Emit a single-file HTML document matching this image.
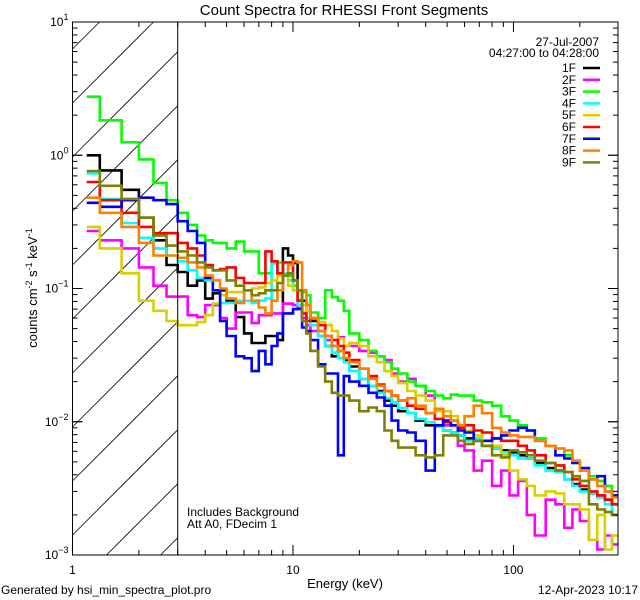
<!DOCTYPE html>
<html><head><meta charset="utf-8"><style>
html,body{margin:0;padding:0;background:#fff;width:640px;height:600px;overflow:hidden}
svg{display:block;font-family:"Liberation Sans",sans-serif}
</style></head><body>
<svg id="chart" width="640" height="600" xmlns="http://www.w3.org/2000/svg">
<rect width="640" height="600" fill="#fff"/>
<text x="344" y="15" font-size="15" text-anchor="middle">Count Spectra for RHESSI Front Segments</text>
<g id="hatch"></g>
<g id="series"></g>
<g id="axes"></g>
<g font-size="12" text-anchor="end">
<text x="599" y="46">27-Jul-2007</text>
<text x="599" y="57">04:27:00 to 04:28:00</text>
</g>
<g id="legend-entries"></g>
<text x="187" y="516" font-size="12">Includes Background</text>
<text x="187" y="528" font-size="12">Att A0, FDecim 1</text>
<text x="345" y="588" font-size="13" text-anchor="middle">Energy (keV)</text>
<text transform="translate(37,288) rotate(-90)" font-size="13" text-anchor="middle">counts cm<tspan dy="-5" font-size="9">-2</tspan><tspan dy="5"> s</tspan><tspan dy="-5" font-size="9">-1</tspan><tspan dy="5"> keV</tspan><tspan dy="-5" font-size="9">-1</tspan></text>
<text x="1" y="594" font-size="12">Generated by hsi_min_spectra_plot.pro</text>
<text x="638" y="594" font-size="12" text-anchor="end">12-Apr-2023 10:17</text>
</svg>
<script>
const edges=[1.16,1.33,1.67,2,2.33,2.67,3,3.33,3.67,4,4.33,4.67,5,5.5,6,6.5,7,7.5,8,8.5,9,9.5,10,10.5,11,11.5,12,13,14,15,16,17,18,20,22,24,26,28,30,33,36,40,44,48,52,56,60,66,72,80,88,96,105,115,125,140,155,170,185,200,220,240,260,280,300];
const seriesNames=["1F","2F","3F","4F","5F","6F","7F","8F","9F"];
const seriesColors=["#000000","#ff00ff","#00ff00","#00ffff","#d8d000","#ff0000","#0000ff","#ff8000","#808000"];
const s1F=[1.0,.77,.55,.34,.23,.15,.133,.105,.115,.084,.092,.097,.081,.061,.046,.039,.039,.044,.044,.041,.20,.177,.155,.097,.081,.068,.057,.048,.037,.031,.034,.029,.026,.021,.0186,.017,.0144,.0132,.012,.0116,.0102,.0094,.0094,.0086,.0083,.0079,.0075,.0072,.0066,.0063,.0061,.0059,.0056,.0053,.0049,.0045,.0043,.0037,.0034,.0031,.0029,.0028,.0026,.0024];
const s2F=[.27,.23,.20,.144,.105,.087,.087,.063,.061,.075,.075,.06,.05,.066,.066,.055,.063,.063,.065,.065,.077,.077,.075,.071,.06,.053,.048,.044,.041,.037,.043,.037,.037,.034,.033,.031,.029,.023,.020,.021,.0186,.0157,.012,.0094,.0102,.0066,.0061,.0043,.0051,.0033,.0043,.0028,.0036,.0020,.0014,.0026,.0024,.0016,.0022,.0018,.0013,.0011,.0014,.0012];
const s3F=[2.75,1.83,1.25,.93,.62,.46,.37,.30,.25,.23,.22,.22,.20,.225,.19,.19,.13,.13,.157,.157,.125,.125,.105,.097,.094,.089,.066,.06,.097,.086,.081,.068,.046,.041,.034,.031,.028,.025,.023,.020,.0186,.017,.0157,.015,.016,.0157,.0157,.0144,.014,.0132,.011,.0102,.0094,.0086,.0075,.0066,.0063,.0056,.0049,.0043,.0039,.0036,.0033,.0028];
const s4F=[.73,.47,.31,.24,.20,.177,.16,.137,.12,.115,.097,.078,.078,.081,.081,.078,.081,.084,.154,.13,.13,.115,.097,.075,.066,.06,.053,.044,.037,.033,.03,.028,.024,.021,.0186,.0165,.015,.014,.0127,.0116,.0105,.0099,.0092,.0086,.0083,.0079,.0072,.0075,.0066,.0063,.0059,.0056,.0053,.0053,.0047,.0043,.0042,.0037,.0033,.003,.0029,.0027,.0024,.002];
const s5F=[.29,.20,.13,.081,.068,.057,.053,.053,.056,.063,.077,.089,.094,.094,.097,.1,.102,.11,.115,.125,.125,.105,.097,.081,.075,.068,.06,.056,.053,.048,.042,.037,.039,.037,.031,.028,.024,.022,.0195,.017,.0157,.0144,.012,.012,.011,.0094,.0086,.0079,.0072,.0066,.0056,.0043,.0037,.0033,.0028,.003,.0029,.0024,.0024,.0022,.0013,.002,.0011,.0014];
const s6F=[.63,.46,.37,.29,.26,.26,.22,.20,.177,.15,.137,.14,.144,.12,.11,.11,.11,.19,.16,.13,.157,.157,.115,.081,.065,.057,.06,.053,.044,.041,.037,.033,.029,.025,.022,.019,.017,.0157,.0144,.0132,.0125,.0116,.0105,.0099,.0094,.009,.0094,.0086,.0083,.0075,.0072,.0072,.0066,.0061,.0056,.0049,.0047,.0042,.0037,.0033,.003,.0028,.0026,.0024];
const s7F=[.44,.41,.46,.48,.46,.43,.32,.27,.22,.12,.097,.057,.044,.031,.03,.024,.034,.027,.037,.046,.065,.065,.07,.07,.051,.048,.041,.027,.023,.023,.0056,.022,.02,.0186,.0165,.0152,.0132,.0102,.0086,.0083,.0072,.0043,.0094,.0102,.0094,.0086,.0083,.0072,.0072,.0075,.0079,.0086,.009,.0086,.0072,.0066,.0056,.0053,.0049,.0045,.0037,.0039,.003,.0028];
const s8F=[.48,.37,.29,.22,.177,.177,.17,.157,.144,.125,.115,.1,.084,.078,.097,.081,.072,.065,.081,.097,.125,.15,.16,.157,.097,.075,.06,.048,.044,.037,.034,.03,.028,.025,.021,.0186,.017,.0157,.0144,.015,.0132,.0116,.0125,.011,.0102,.0094,.011,.0132,.0116,.009,.0083,.0079,.0077,.0077,.0072,.0066,.0063,.0061,.0051,.0043,.0037,.0033,.003,.0027];
const s9F=[.76,.59,.47,.34,.25,.21,.19,.177,.157,.144,.137,.137,.115,.105,.097,.089,.092,.097,.097,.11,.125,.13,.115,.097,.057,.046,.034,.026,.020,.0165,.0157,.0157,.0144,.012,.0128,.012,.0086,.0072,.0064,.0064,.0056,.0054,.0056,.0079,.0079,.0072,.0068,.0072,.0066,.0056,.0054,.0061,.0059,.0056,.0051,.0049,.0043,.0042,.0039,.0036,.0024,.0022,.0021,.002];
const seriesData=[s1F,s2F,s3F,s4F,s5F,s6F,s7F,s8F,s9F];
const xTicksMajor=[1,10,100];
const xTickLabels=["1","10","100"];
const yTicksMajor=[-3,-2,-1,0,1];

const NS="http://www.w3.org/2000/svg";
const L=72.5,R=618,T=22,B=555;
const xMin=1,xMax=298,yMinExp=-3,yMaxExp=1;
function xs(e){return L+(Math.log10(e)-Math.log10(xMin))/(Math.log10(xMax)-Math.log10(xMin))*(R-L);}
function ys(v){return B-(Math.log10(v)-yMinExp)/(yMaxExp-yMinExp)*(B-T);}
function mk(tag,attrs,parent){const el=document.createElementNS(NS,tag);for(const k in attrs)el.setAttribute(k,attrs[k]);parent.appendChild(el);return el;}

const defs=mk("defs",{},document.getElementById("chart"));
const cp=mk("clipPath",{id:"plotclip"},defs);
mk("rect",{x:L,y:T,width:R-L,height:B-T},cp);

const hatch=document.getElementById("hatch");
const X3=xs(3);
for(let c=-200;c<700;c+=54){
  const k=87+c;
  const xa=Math.max(0,k-B), xb=Math.min(X3-L,k-T);
  if(xa>=xb) continue;
  const ln=mk("line",{x1:L+xa,y1:k-xa,x2:L+xb,y2:k-xb,stroke:"#000","stroke-width":0.8},hatch);
  
  
}
const vl=mk("line",{x1:X3,y1:T,x2:X3,y2:B,stroke:"#000","stroke-width":1},hatch.parentNode);



const sg=document.getElementById("series");
sg.setAttribute("clip-path","url(#plotclip)");
seriesData.forEach((vals,si)=>{
  let d="";
  const n=Math.min(vals.length,edges.length-1);
  for(let i=0;i<n;i++){
    const x0=xs(edges[i]),x1=xs(edges[i+1]),y=ys(vals[i]);
    d+=(i===0?"M":"L")+x0.toFixed(1)+","+y.toFixed(1)+"L"+x1.toFixed(1)+","+y.toFixed(1);
  }
  const p=mk("path",{d:d,fill:"none",stroke:seriesColors[si],"stroke-width":2.6,"stroke-linejoin":"miter"},sg);
  
  
});

const lg=document.getElementById("legend-entries");
seriesNames.forEach((nm,i)=>{
  const y=68+i*11.8;
  const t=mk("text",{x:576,y:y+4,"font-size":12,"text-anchor":"end"},lg);
  t.textContent=nm;
  
  
  const l=mk("line",{x1:583,y1:y,x2:600,y2:y,stroke:seriesColors[i],"stroke-width":2.5},lg);
  
  
});

const ax=document.getElementById("axes");
const frame=mk("rect",{x:L,y:T,width:R-L,height:B-T,fill:"none",stroke:"#000","stroke-width":1},ax);


for(let dec=1;dec<=100;dec*=10){
  for(let m=1;m<10;m++){
    const e=dec*m; if(e>xMax) break;
    const x=xs(e), len=(m===1)?10:5;
    const t1=mk("line",{x1:x,y1:B,x2:x,y2:B-len,stroke:"#000"},ax);
    
    
    const t2=mk("line",{x1:x,y1:T,x2:x,y2:T+len,stroke:"#000"},ax);
    
    
  }
}
xTicksMajor.forEach((v,i)=>{
  const t=mk("text",{x:xs(v),y:B+19,"font-size":12,"text-anchor":"middle"},ax);
  t.textContent=xTickLabels[i];
  
  
});
for(let ex=yMinExp;ex<yMaxExp;ex++){
  for(let m=1;m<=10;m++){
    const v=m*Math.pow(10,ex); const y=ys(v); const len=(m===1||m===10)?10:5;
    const t1=mk("line",{x1:L,y1:y,x2:L+len,y2:y,stroke:"#000"},ax);
    
    
    const t2=mk("line",{x1:R,y1:y,x2:R-len,y2:y,stroke:"#000"},ax);
    
    
  }
}
yTicksMajor.forEach(ex=>{
  const y=ys(Math.pow(10,ex));
  const t=mk("text",{x:L-4,y:y+4,"font-size":12,"text-anchor":"end"},ax);
  
  
  const b=mk("tspan",{},t); b.textContent="10";
  const s=mk("tspan",{dy:-6,"font-size":9},t); s.textContent=(ex<0?"\u2212":"")+Math.abs(ex);
});
</script>
</body></html>
